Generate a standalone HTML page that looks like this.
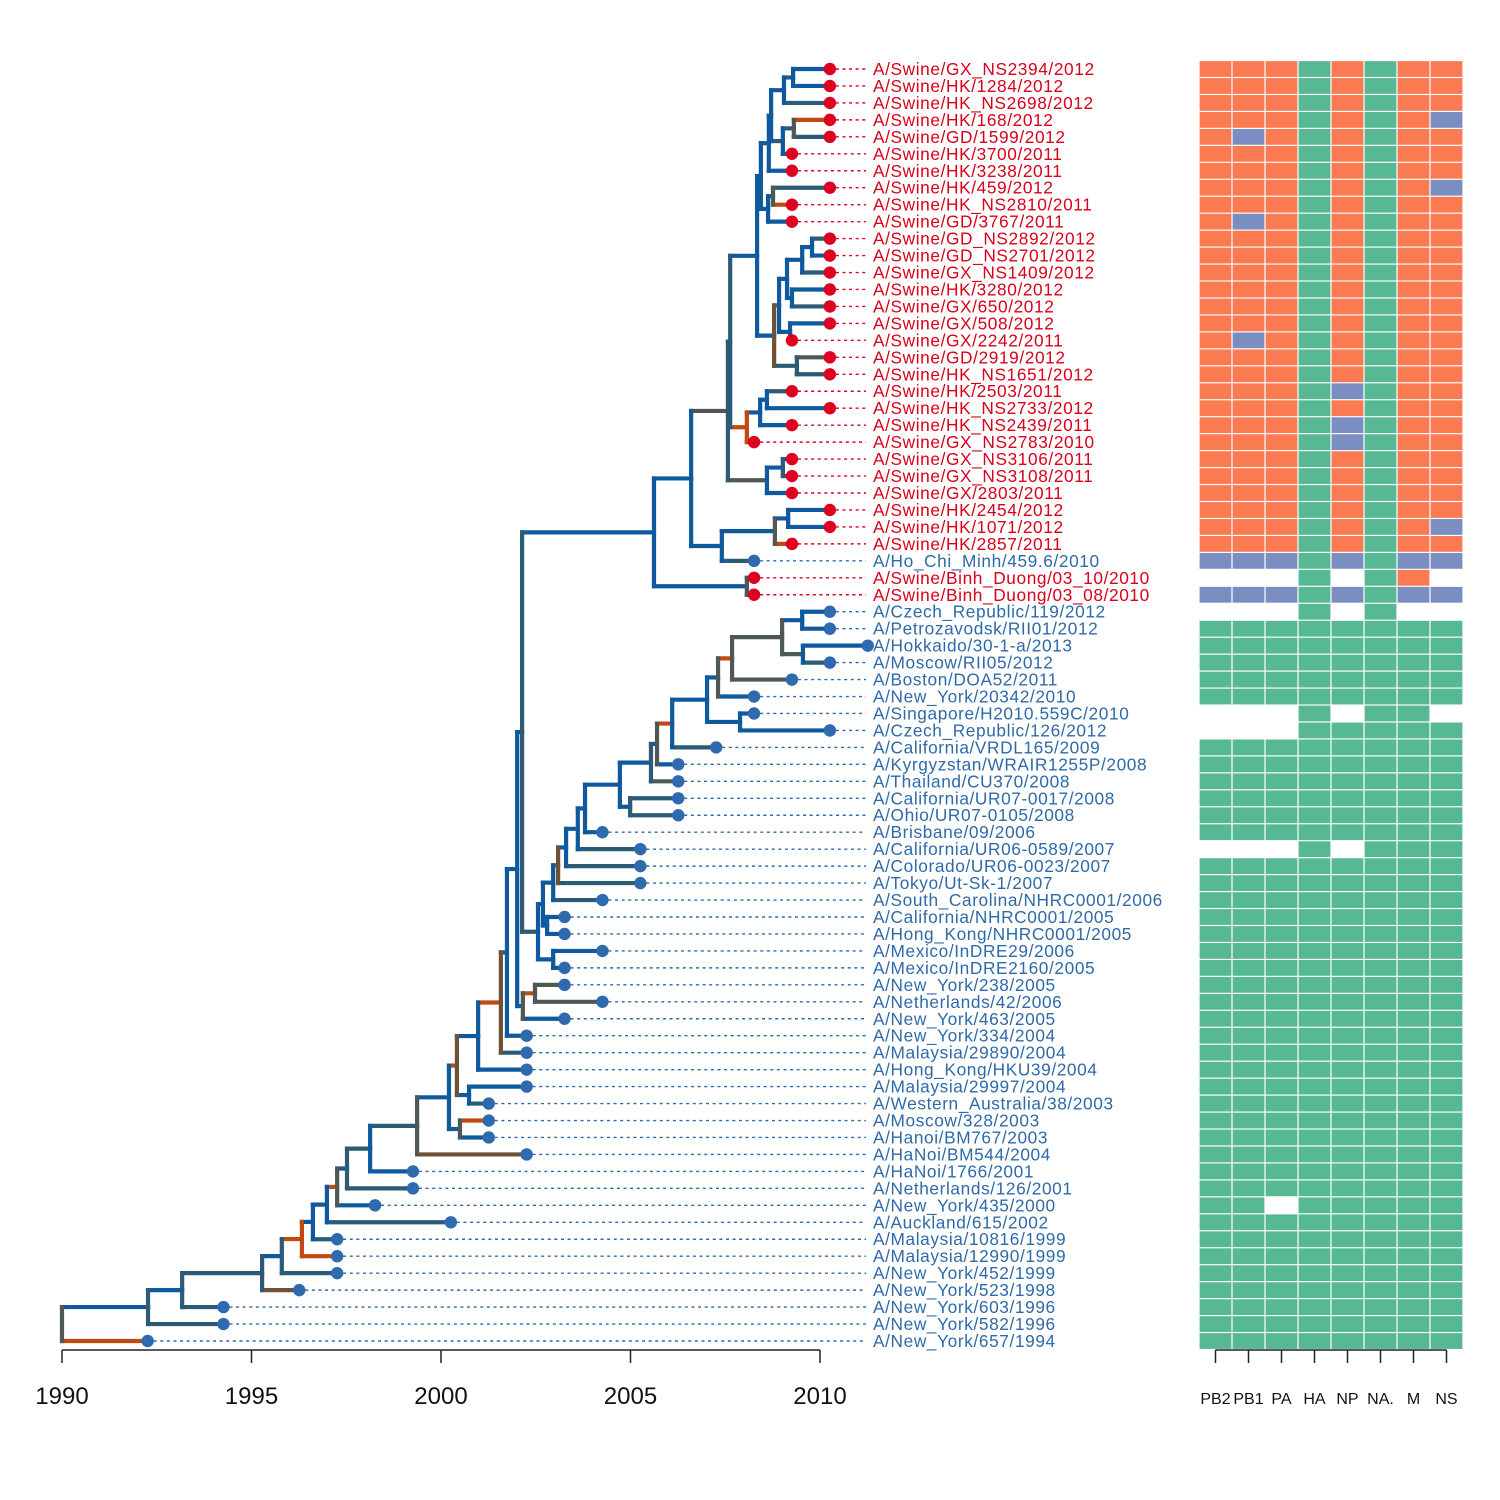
<!DOCTYPE html>
<html><head><meta charset="utf-8"><style>
html,body{margin:0;padding:0;background:#fff;}
svg{display:block;font-family:"Liberation Sans",Arial,sans-serif;}
</style></head><body>
<svg id="chart" width="1500" height="1500" viewBox="0 0 1500 1500" xmlns="http://www.w3.org/2000/svg">
<g id="tree"></g>
<g id="tips"></g>
<g id="heat"></g>
<g id="axes"></g>
</svg>
<script>
const tipLabels=["A/Swine/GX_NS2394/2012","A/Swine/HK/1284/2012","A/Swine/HK_NS2698/2012","A/Swine/HK/168/2012","A/Swine/GD/1599/2012","A/Swine/HK/3700/2011","A/Swine/HK/3238/2011","A/Swine/HK/459/2012","A/Swine/HK_NS2810/2011","A/Swine/GD/3767/2011","A/Swine/GD_NS2892/2012","A/Swine/GD_NS2701/2012","A/Swine/GX_NS1409/2012","A/Swine/HK/3280/2012","A/Swine/GX/650/2012","A/Swine/GX/508/2012","A/Swine/GX/2242/2011","A/Swine/GD/2919/2012","A/Swine/HK_NS1651/2012","A/Swine/HK/2503/2011","A/Swine/HK_NS2733/2012","A/Swine/HK_NS2439/2011","A/Swine/GX_NS2783/2010","A/Swine/GX_NS3106/2011","A/Swine/GX_NS3108/2011","A/Swine/GX/2803/2011","A/Swine/HK/2454/2012","A/Swine/HK/1071/2012","A/Swine/HK/2857/2011","A/Ho_Chi_Minh/459.6/2010","A/Swine/Binh_Duong/03_10/2010","A/Swine/Binh_Duong/03_08/2010","A/Czech_Republic/119/2012","A/Petrozavodsk/RII01/2012","A/Hokkaido/30-1-a/2013","A/Moscow/RII05/2012","A/Boston/DOA52/2011","A/New_York/20342/2010","A/Singapore/H2010.559C/2010","A/Czech_Republic/126/2012","A/California/VRDL165/2009","A/Kyrgyzstan/WRAIR1255P/2008","A/Thailand/CU370/2008","A/California/UR07-0017/2008","A/Ohio/UR07-0105/2008","A/Brisbane/09/2006","A/California/UR06-0589/2007","A/Colorado/UR06-0023/2007","A/Tokyo/Ut-Sk-1/2007","A/South_Carolina/NHRC0001/2006","A/California/NHRC0001/2005","A/Hong_Kong/NHRC0001/2005","A/Mexico/InDRE29/2006","A/Mexico/InDRE2160/2005","A/New_York/238/2005","A/Netherlands/42/2006","A/New_York/463/2005","A/New_York/334/2004","A/Malaysia/29890/2004","A/Hong_Kong/HKU39/2004","A/Malaysia/29997/2004","A/Western_Australia/38/2003","A/Moscow/328/2003","A/Hanoi/BM767/2003","A/HaNoi/BM544/2004","A/HaNoi/1766/2001","A/Netherlands/126/2001","A/New_York/435/2000","A/Auckland/615/2002","A/Malaysia/10816/1999","A/Malaysia/12990/1999","A/New_York/452/1999","A/New_York/523/1998","A/New_York/603/1996","A/New_York/582/1996","A/New_York/657/1994"];
const tipDates=[2010.26,2010.26,2010.26,2010.26,2010.26,2009.26,2009.26,2010.26,2009.26,2009.26,2010.26,2010.26,2010.26,2010.26,2010.26,2010.26,2009.26,2010.26,2010.26,2009.26,2010.26,2009.26,2008.26,2009.26,2009.26,2009.26,2010.26,2010.26,2009.26,2008.26,2008.26,2008.26,2010.26,2010.26,2011.26,2010.26,2009.26,2008.26,2008.26,2010.26,2007.26,2006.26,2006.26,2006.26,2006.26,2004.26,2005.26,2005.26,2005.26,2004.26,2003.26,2003.26,2004.26,2003.26,2003.26,2004.26,2003.26,2002.26,2002.26,2002.26,2002.26,2001.26,2001.26,2001.26,2002.26,1999.26,1999.26,1998.26,2000.26,1997.26,1997.26,1997.26,1996.26,1994.26,1994.26,1992.26];
const tipHost="rrrrrrrrrrrrrrrrrrrrrrrrrrrrrbrrbbbbbbbbbbbbbbbbbbbbbbbbbbbbbbbbbbbbbbbbbbbb";
const segments=["PB2","PB1","PA","HA","NP","NA.","M","NS"];
const heatRows=["OOOGOGOO","OOOGOGOO","OOOGOGOO","OOOGOGOB","OBOGOGOO","OOOGOGOO","OOOGOGOO","OOOGOGOB","OOOGOGOO","OBOGOGOO","OOOGOGOO","OOOGOGOO","OOOGOGOO","OOOGOGOO","OOOGOGOO","OOOGOGOO","OBOGOGOO","OOOGOGOO","OOOGOGOO","OOOGBGOO","OOOGOGOO","OOOGBGOO","OOOGBGOO","OOOGOGOO","OOOGOGOO","OOOGOGOO","OOOGOGOO","OOOGOGOB","OOOGOGOO","BBBGBGBB","___G_GO_","BBBGBGBB","___G_G__","GGGGGGGG","GGGGGGGG","GGGGGGGG","GGGGGGGG","GGGGGGGG","___G_GG_","___GGGGG","GGGGGGGG","GGGGGGGG","GGGGGGGG","GGGGGGGG","GGGGGGGG","GGGGGGGG","___G_GGG","GGGGGGGG","GGGGGGGG","GGGGGGGG","GGGGGGGG","GGGGGGGG","GGGGGGGG","GGGGGGGG","GGGGGGGG","GGGGGGGG","GGGGGGGG","GGGGGGGG","GGGGGGGG","GGGGGGGG","GGGGGGGG","GGGGGGGG","GGGGGGGG","GGGGGGGG","GGGGGGGG","GGGGGGGG","GGGGGGGG","GG_GGGGG","GGGGGGGG","GGGGGGGG","GGGGGGGG","GGGGGGGG","GGGGGGGG","GGGGGGGG","GGGGGGGG","GGGGGGGG"];
const yearTicks=[1990,1995,2000,2005,2010];

const LC={b:"#0f5a9e",s:"#2c5b78",g:"#4f5954",r:"#6e5236",o:"#c24a10"};
const HC={O:"#fa7b52",G:"#57b894",B:"#7b8ec2"};
const NS="http://www.w3.org/2000/svg";
function xs(yr){return 62+(yr-1990)*37.9;}
function ys(row){return 69+(row-1)*16.96;}
function N(d,h,v,...kids){return {d:d,h:h,v:v,kids:kids};}
function T(i,h){return {tip:i,h:h||'b'};}
function mk(tag,attrs,parent){const e=document.createElementNS(NS,tag);for(const k in attrs)e.setAttribute(k,attrs[k]);parent.appendChild(e);return e;}

const A=N(2009.29,'s','b',T(1),T(2));
const B=N(2009.05,'b','b',A,T(3,'s'));
const C=N(2009.31,'s','g',T(4,'o'),T(5,'s'));
const D=N(2009.02,'s','b',C,T(6));
const E=N(2008.71,'b','b',B,D);
const F=N(2008.65,'b','b',E,T(7));
const Gn=N(2008.76,'b','g',T(8,'s'),T(9,'o'));
const H=N(2008.63,'b','b',Gn,T(10));
const I=N(2008.44,'b','b',F,H);
const L=N(2009.79,'b','b',T(11,'s'),T(12));
const M=N(2009.53,'b','b',L,T(13,'s'));
const Nn=N(2009.26,'b','b',T(14),T(15,'s'));
const On=N(2009.13,'b','b',M,Nn);
const P=N(2009.21,'b','b',T(16),T(17,'s'));
const Q=N(2008.92,'o','b',On,P);
const R=N(2009.39,'s','s',T(18,'g'),T(19,'s'));
const K=N(2008.79,'b','r',Q,R);
const J=N(2008.34,'b','b',I,K);
const X=N(2008.60,'b','b',T(20,'s'),T(21));
const W=N(2008.42,'b','b',X,T(22));
const V=N(2008.07,'o','o',W,T(23,'r'));
const S2=N(2007.63,'s','s',J,V);
const U=N(2009.02,'b','s',T(24),T(25,'s'));
const Tn=N(2008.60,'g','b',U,T(26));
const S1=N(2007.57,'g','s',S2,Tn);
const BB=N(2009.16,'b','b',T(27),T(28));
const AA=N(2008.81,'b','g',BB,T(29,'o'));
const Z=N(2007.41,'b','b',AA,T(30,'s'));
const Y=N(2006.60,'b','b',S1,Z);
const DD=N(2008.07,'b','g',T(31,'b'),T(32,'b'));
const CC=N(2005.62,'b','b',Y,DD);
const a=N(2009.53,'b','b',T(33),T(34));
const b=N(2009.55,'g','b',T(35),T(36,'s'));
const c=N(2009.00,'g','g',a,b);
const d=N(2007.68,'o','g',c,T(37,'g'));
const e=N(2007.31,'b','g',d,T(38));
const f=N(2007.89,'b','b',T(39),T(40));
const g=N(2007.02,'b','b',e,f);
const h=N(2006.10,'o','b',g,T(41,'s'));
const i=N(2005.70,'b','g',h,T(42,'b'));
const j=N(2005.54,'b','s',i,T(43,'g'));
const k=N(2004.99,'b','s',T(44,'s'),T(45,'s'));
const l=N(2004.72,'b','b',j,k);
const m=N(2003.80,'b','b',l,T(46));
const n=N(2003.61,'b','b',m,T(47,'s'));
const o=N(2003.30,'b','b',n,T(48,'s'));
const p=N(2003.09,'o','r',o,T(49,'s'));
const q=N(2002.96,'b','b',p,T(50,'s'));
const r=N(2002.80,'b','b',T(51),T(52));
const t=N(2002.69,'b','b',q,r);
const s=N(2002.96,'b','b',T(53),T(54));
const u=N(2002.56,'s','b',t,s);
const root2=N(2002.14,'b','s',CC,u);
const x1=N(2002.48,'o','g',T(55,'g'),T(56,'g'));
const w=N(2002.16,'b','g',x1,T(57));
const v=N(2002.01,'b','b',root2,w);
const y1=N(2001.74,'b','b',v,T(58));
const y2=N(2001.58,'o','r',y1,T(59,'s'));
const y3=N(2000.98,'b','b',y2,T(60));
const y5=N(2000.74,'b','b',T(61),T(62,'s'));
const y4=N(2000.42,'o','r',y3,y5);
const y7=N(2000.50,'b','g',T(63,'o'),T(64));
const y6=N(2000.21,'b','b',y4,y7);
const y8=N(1999.37,'s','g',y6,T(65,'r'));
const y9=N(1998.13,'s','b',y8,T(66));
const y10=N(1997.52,'b','s',y9,T(67,'s'));
const y11=N(1997.26,'o','g',y10,T(68));
const y12=N(1996.99,'b','b',y11,T(69,'s'));
const y13=N(1996.62,'b','b',y12,T(70,'s'));
const y14=N(1996.33,'o','o',y13,T(71,'o'));
const y15=N(1995.80,'b','s',y14,T(72,'s'));
const y16=N(1995.28,'s','s',y15,T(73,'r'));
const y17=N(1993.17,'b','s',y16,T(74,'s'));
const y18=N(1992.27,'b','s',y17,T(75,'s'));
const tree=N(1990,'b','g',y18,T(76,'o'));

const gTree=document.getElementById('tree');
const gTips=document.getElementById('tips');
function layout(nd){
  if(nd.tip){nd.y=ys(nd.tip);nd.x=xs(tipDates[nd.tip-1]);return;}
  nd.kids.forEach(layout);
  nd.x=xs(nd.d);
  nd.y=(nd.kids[0].y+nd.kids[nd.kids.length-1].y)/2;
}
layout(tree);
const hLines=[],vLines=[];
function draw(nd,px){
  if(px!==null){hLines.push([px,nd.x,nd.y,nd.h]);}
  if(!nd.tip){
    vLines.push([nd.x,nd.kids[0].y,nd.kids[nd.kids.length-1].y,nd.v]);
    nd.kids.forEach(ch=>draw(ch,nd.x));
  }
}
draw(tree,null);
hLines.forEach(l=>{
  const e=mk('line',{x1:l[0],x2:l[1],y1:l[2],y2:l[2],stroke:LC[l[3]],'stroke-width':4.2,'stroke-linecap':'square'},gTree);
  
  
});
vLines.forEach(l=>{
  const e=mk('line',{x1:l[0],x2:l[0],y1:l[1],y2:l[2],stroke:LC[l[3]],'stroke-width':4.2,'stroke-linecap':'square'},gTree);
  
  
});
tipLabels.forEach((lab,idx)=>{
  const row=idx+1,y=ys(row),x=xs(tipDates[idx]);
  const red=tipHost[idx]==='r';
  const col=red?"#d9001b":"#2f6aa8";
  const dot=red?"#dd0020":"#2f6aae";
  const dl=mk('line',{x1:x+6,x2:866,y1:y,y2:y,stroke:col,'stroke-width':1.4,'stroke-dasharray':'3,3.6'},gTips);
  
  
  const c=mk('circle',{cx:x,cy:y,r:6.2,fill:dot},gTips);
  
  
  const tx=mk('text',{x:873,y:y+6,fill:col,'font-size':17.3,'letter-spacing':0.6},gTips);
  tx.textContent=lab;
  
  
});
const gHeat=document.getElementById('heat');
heatRows.forEach((rowStr,ri)=>{
  const yc=ys(ri+1);
  for(let ci=0;ci<segments.length;ci++){
    const ch=rowStr[ci];
    if(ch==='_')continue;
    const rc=mk('rect',{x:1199+ci*33+0.6,y:yc-8.48+0.6,width:31.8,height:15.8,fill:HC[ch]},gHeat);
    
    
  }
});
const gAx=document.getElementById('axes');
const ax=mk('line',{x1:xs(yearTicks[0]),x2:xs(yearTicks[yearTicks.length-1]),y1:1350,y2:1350,stroke:'#222','stroke-width':1.5},gAx);


yearTicks.forEach(yr=>{
  const tk=mk('line',{x1:xs(yr),x2:xs(yr),y1:1350,y2:1363,stroke:'#222','stroke-width':1.5},gAx);
  
  
  const tl=mk('text',{x:xs(yr),y:1404,'text-anchor':'middle','font-size':24,fill:'#111'},gAx);
  tl.textContent=String(yr);
  
  
});
const hx=mk('line',{x1:1215.5,x2:1215.5+33*(segments.length-1),y1:1350,y2:1350,stroke:'#222','stroke-width':1.5},gAx);


segments.forEach((sg,ci)=>{
  const cx=1215.5+ci*33;
  const tk=mk('line',{x1:cx,x2:cx,y1:1350,y2:1363,stroke:'#222','stroke-width':1.5},gAx);
  
  
  const tl=mk('text',{x:cx,y:1404,'text-anchor':'middle','font-size':16,fill:'#111'},gAx);
  tl.textContent=sg;
  
  
});
</script>
</body></html>
